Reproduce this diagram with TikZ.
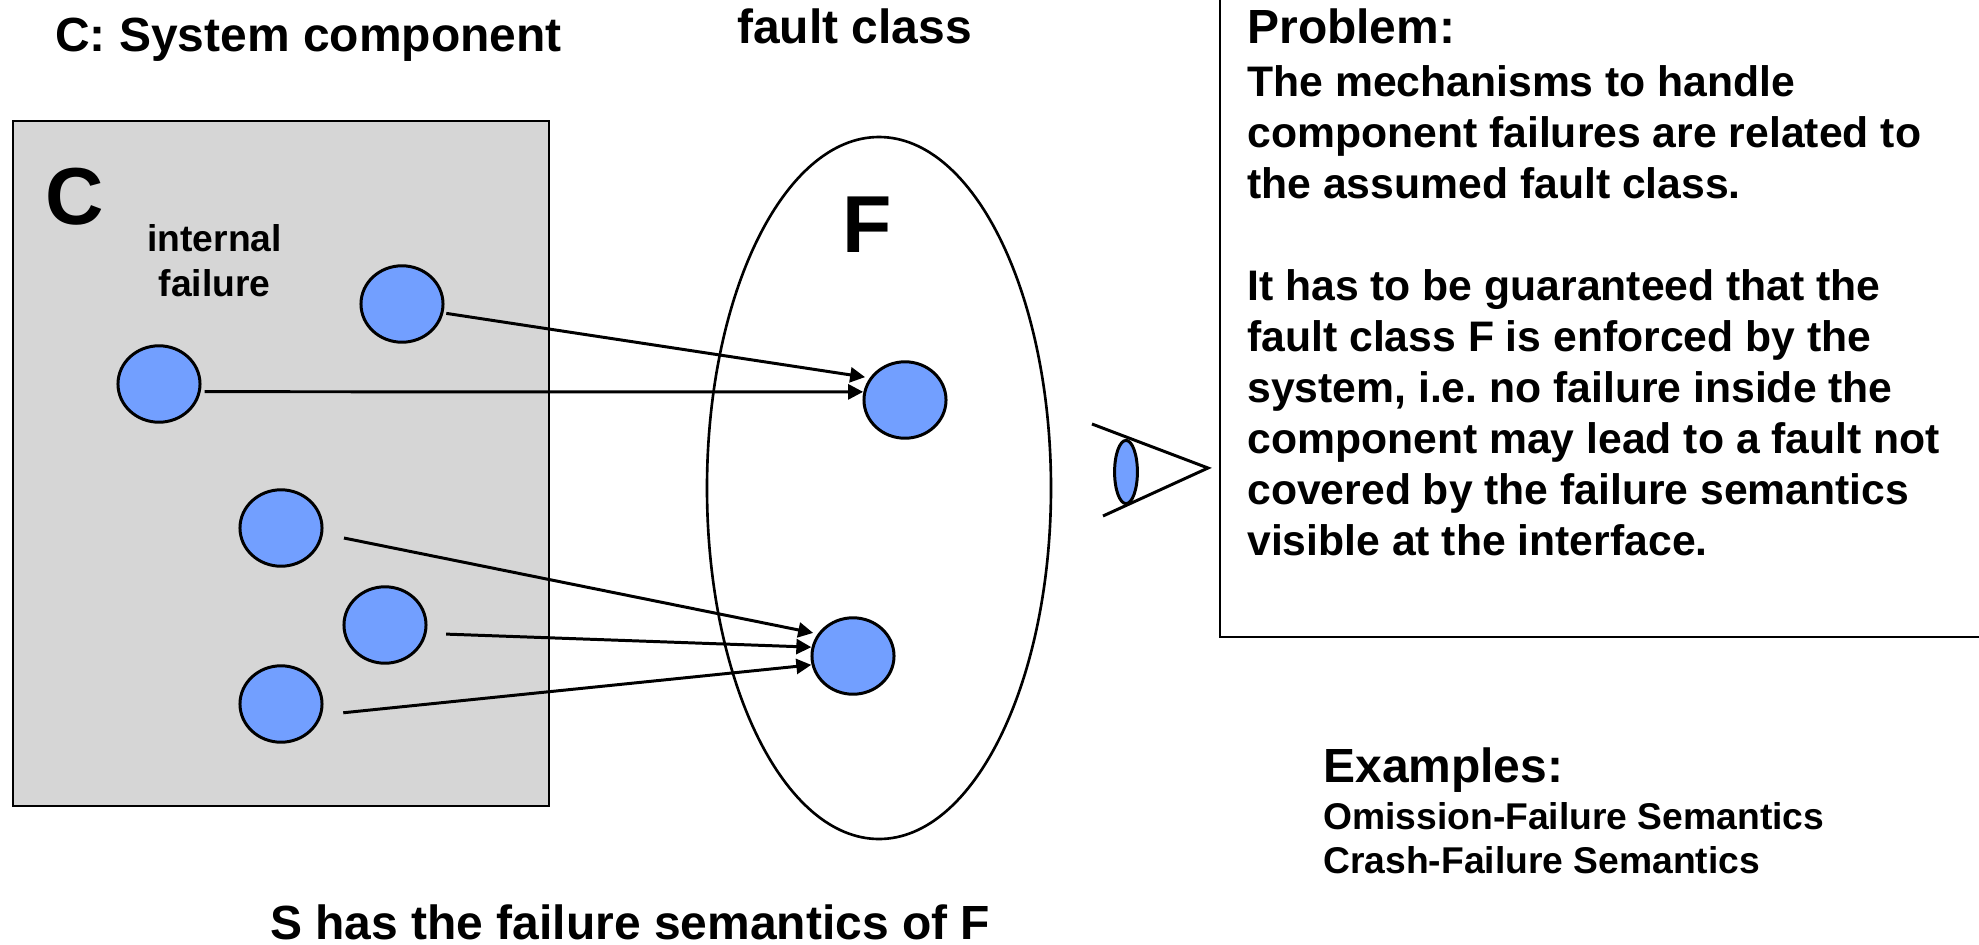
\documentclass[tikz,border=0pt]{standalone}
\usepackage{fontspec}
\setmainfont{Liberation Sans}
\frenchspacing
\usetikzlibrary{arrows.meta,shapes.geometric}
\definecolor{dotblue}{RGB}{114,159,255}
\definecolor{boxgray}{RGB}{214,214,214}
\tikzset{dotsrc/.style={draw,ellipse,fill=dotblue,line width=1.7pt,minimum width=46.7pt,minimum height=43.5pt,inner sep=0pt,outer sep=2pt}  }
\tikzset{dottgt/.style={draw,ellipse,fill=dotblue,line width=1.7pt,minimum width=46.7pt,minimum height=43.5pt,inner sep=0pt,outer sep=1pt}  }
\tikzset{lbl/.style={inner sep=0pt,anchor=base west,font=\fontsize{27.3}{32}\selectfont\bfseries}  }
\tikzset{txt/.style={inner sep=0pt,anchor=base west,font=\fontsize{24.3}{29}\selectfont\bfseries,align=left}  }
\tikzset{sml/.style={inner sep=0pt,anchor=base west,font=\fontsize{21.2}{24.6}\selectfont\bfseries,align=left}  }
\tikzset{bigl/.style={inner sep=0pt,anchor=base west,font=\fontsize{46}{50}\selectfont\bfseries}  }
\tikzset{>={Triangle[length=8.5pt,width=8.5pt]}}
\tikzset{flow/.style={->,line width=1.7pt}}

\begin{document}
\begin{tikzpicture}[x=0.02cm,y=-0.02cm]
		\useasboundingbox (0,0) rectangle (1979,944);
		\draw[fill=boxgray,line width=1.5pt] (13,121) rectangle (549,806);
		\draw[line width=1.5pt] (879,488) ellipse (172 and 351);
		\coordinate[dotsrc] (s1) at (402,304);
		\coordinate[dotsrc] (s2) at (159,384);
		\coordinate[dotsrc] (s3) at (281,528);
		\coordinate[dotsrc] (s4) at (385,625);
		\coordinate[dotsrc] (s5) at (281,704);
		\coordinate[dottgt] (t1) at (905,400);
		\coordinate[dottgt] (t2) at (853,656);
	\draw[flow,shorten >=2.5pt,shorten <=0.5pt] (s1.-12)--(t1.148);
	\draw[flow,shorten <=1pt] (s2.-10)--(t1.169);
	\draw[flow,shorten >=2.5pt,shorten <=11pt] (s3.-8)--(t2.148);
	\draw[flow,shorten <=10pt] (s4.-11)--(t2.168);
	\draw[flow,shorten <=11pt] (s5.-14)--(t2.192);
		\coordinate (e1) at (1092,424);
		\coordinate (e2) at (1208,468);
		\coordinate (e3) at (1103,516);
	\draw[line width=1.7pt] (e1)--(e2)--(e3);
		\coordinate[dottgt,minimum width=13pt,minimum height=36pt] (lens) at (1126,472);
	\draw[line width=1.5pt] (1220,-5)--(1220,637)--(1985,637);
		\node[lbl] (title) at (55,51) {C: System component};
		\node[lbl] (fclass) at (737,43) {fault class};
		\node[bigl] (cname) at (45,224) {C};
		\node[bigl] (fname) at (842,252) {F};
		\node[sml,align=center] (intern) at (147,296) {internal\\[1pt]failure};
		\node[lbl] (prob) at (1247,43) {Problem:};
		\node[txt] (body) at (1247,555.5) {The mechanisms to handle\\component failures are related to\\the assumed fault class.\\[29pt]It has to be guaranteed that the\\fault class F is enforced by the\\system, i.e. no failure inside the\\component may lead to a fault not\\covered by the failure semantics\\visible at the interface.};
		\node[lbl] (expl) at (1323,782) {Examples:};
		\node[sml] (sems) at (1323,873) {Omission-Failure Semantics\\Crash-Failure Semantics};
		\node[lbl] (concl) at (270,939) {S has the failure semantics of F};
	\end{tikzpicture}
\end{document}
